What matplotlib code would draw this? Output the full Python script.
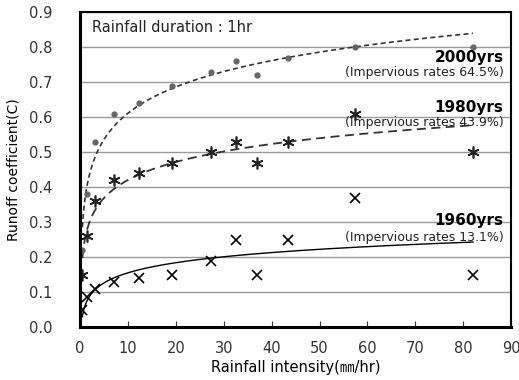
from matplotlib import pyplot as plt
from matplotlib import rcParams as mplParams
import numpy as np

mplParams["font.family"] = ["DejaVu Sans", "Noto Sans CJK KR"]

# rainfall intensity (mm/hr) of the observed events
intensity = [0.5, 1.4, 3.2, 7.2, 12.4, 19.3, 27.3, 32.5, 37.0, 43.5, 57.3, 82.0]

# runoff coefficient per land-use period
c_2000 = [0.22, 0.38, 0.53, 0.61, 0.64, 0.69, 0.73, 0.76, 0.72, 0.77, 0.80, 0.80]
c_1980 = [0.15, 0.26, 0.36, 0.42, 0.44, 0.47, 0.50, 0.53, 0.47, 0.53, 0.61, 0.50]
c_1960 = [0.05, 0.085, 0.11, 0.13, 0.14, 0.15, 0.19, 0.25, 0.15, 0.25, 0.37, 0.15]

# logarithmic trendlines C = a + b*ln(I)
trend_2000 = (0.361, 0.1086)
trend_1980 = (0.249, 0.0744)
trend_1960 = (0.059, 0.0418)

labels = ["2000yrs", "1980yrs", "1960yrs"]
rates = ["(Impervious rates 64.5%)", "(Impervious rates 43.9%)", "(Impervious rates 13.1%)"]
yticks = [0.0, 0.1, 0.2, 0.3, 0.4, 0.5, 0.6, 0.7, 0.8, 0.9]
xticks = [0, 10, 20, 30, 40, 50, 60, 70, 80, 90]


def trend(coef, x):
    return coef[0] + coef[1] * np.log(x)


fig = plt.figure(figsize=(5.19, 3.80), dpi=100)
ax = fig.add_axes([0.154, 0.139, 0.831, 0.829])

ax.set_xlim(0, 90)
ax.set_ylim(0, 0.9)
ax.set_xticks(xticks)
ax.set_yticks(yticks)
ax.set_yticklabels(["%.1f" % v for v in yticks])
ax.yaxis.grid(True, color="#999999", linewidth=1.0)
ax.set_axisbelow(True)
ax.tick_params(axis="x", direction="in", length=4, width=0.8, labelsize=10.5, colors="#333333", pad=10)
ax.tick_params(axis="y", length=0, labelsize=10.5, colors="#333333", pad=20)

for side in ["left", "bottom"]:
    ax.spines[side].set_linewidth(2.2)
for side in ["top", "right"]:
    ax.spines[side].set_linewidth(1.5)

xs = np.linspace(0.5, intensity[-1], 400)
ax.plot(xs, trend(trend_2000, xs), color="#333333", linestyle=(0, (3, 2)), linewidth=1.2)
ax.plot(xs, trend(trend_1980, xs), color="#333333", linestyle=(0, (5, 3)), linewidth=1.3)
ax.plot(xs, trend(trend_1960, xs), color="black", linestyle="-", linewidth=1.0)

ax.plot(intensity, c_2000, linestyle="None", marker="o", markersize=3.5, color="#666666")
ax.plot(intensity, c_1980, linestyle="None", marker=(6, 2, 0), markersize=8.5, markeredgewidth=1.2, color="#222222")
ax.plot(intensity, c_1960, linestyle="None", marker="x", markersize=7, markeredgewidth=1.2, color="black")

ax.text(2.5, 0.855, "Rainfall duration : 1hr", fontsize=10.5, va="center", ha="left", color="#222222")

label_y = [(0.771, 0.729), (0.629, 0.586), (0.306, 0.257)]
for name, rate, (y1, y2) in zip(labels, rates, label_y):
    ax.text(88.4, y1, name, fontsize=11, fontweight="bold", ha="right", va="center")
    ax.text(88.4, y2, rate, fontsize=9, ha="right", va="center", color="#222222")

ax.set_ylabel("Runoff coefficient(C)", fontsize=10, labelpad=6)
ax.set_xlabel("Rainfall intensity(㎜/hr)", fontsize=10.5, labelpad=3)

fig.savefig("out.png", dpi=100)
